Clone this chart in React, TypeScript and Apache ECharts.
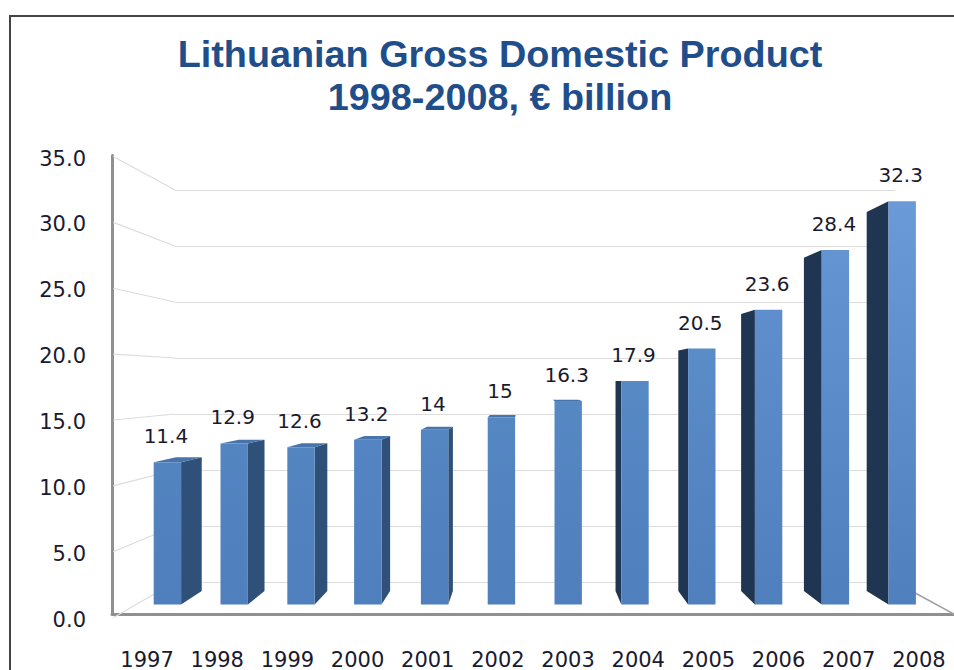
import React, { useEffect, useRef } from "react";
import * as echarts from "echarts";

const years = ["1997","1998","1999","2000","2001","2002","2003","2004","2005","2006","2007","2008"];
const gdp = [11.4,12.9,12.6,13.2,14,15,16.3,17.9,20.5,23.6,28.4,32.3];
const wallTicks = [0,5,10,15,20,25,30,35];
const titleText = "Lithuanian Gross Domestic Product\n1998-2008, € billion";

const FONT = '"DejaVu Sans", sans-serif';
const VP = [525, 380];
const BAR_DEPTH = 0.94;
const WALL_DEPTH = 0.85;

const mix = (a: number[], b: number[], t: number) =>
  `rgb(${a.map((c, i) => Math.round(c + (b[i] - c) * t)).join(",")})`;

function toward(p: number[], k: number) {
  return [VP[0] + (p[0] - VP[0]) * k, VP[1] + (p[1] - VP[1]) * k];
}

function renderWall(_: any, api: any) {
  const v = api.value(0);
  const bl = api.coord([0, v]);
  const fl = toward(bl, 1 / WALL_DEPTH);
  const children: any[] = [
    { type: "line", shape: { x1: bl[0], y1: bl[1], x2: fl[0], y2: fl[1] }, style: { stroke: "#dcdcdc", lineWidth: 1.2 } },
  ];
  if (v === 0) {
    const br = api.coord([1, v]);
    const fr = toward(br, 1 / WALL_DEPTH);
    children.push({ type: "line", shape: { x1: br[0], y1: br[1], x2: fr[0], y2: fr[1] }, style: { stroke: "#a0a0a0", lineWidth: 1.5 } });
  }
  return { type: "group", children };
}

function renderBar(_: any, api: any) {
  const i = api.value(0);
  const v = api.value(1);
  const top = api.coord([i, v]);
  const base = api.coord([i, 0]);
  const w = api.size([1, 0])[0] * 0.41;
  const l = top[0] - w / 2;
  const r = top[0] + w / 2;
  const t = top[1];
  const b = base[1];
  const children: any[] = [];
  const onLeft = l > VP[0];
  const edge = onLeft ? l : r;
  const bt = toward([edge, t], BAR_DEPTH);
  const bb = toward([edge, b], BAR_DEPTH);
  if (Math.abs(bt[0] - edge) > 3) {
    children.push({
      type: "polygon",
      shape: { points: [[edge, t], bt, bb, [edge, b]] },
      style: { fill: onLeft ? "#1f3552" : "#2f5078" },
    });
  }
  if (t > VP[1]) {
    children.push({
      type: "polygon",
      shape: { points: [[l, t], [r, t], toward([r, t], BAR_DEPTH), toward([l, t], BAR_DEPTH)] },
      style: { fill: "#4873ab" },
    });
  }
  const lift = Math.pow(Math.min(1, Math.max(0, (b - t) / 400)), 2);
  children.push({
    type: "polygon",
    shape: { points: [[l, t], [r, t], [r, b], [l, b]] },
    style: {
      fill: new echarts.graphic.LinearGradient(0, 0, 0, 1, [
        { offset: 0, color: mix([79, 129, 189], [106, 155, 216], lift) },
        { offset: 1, color: "#4f7fbd" },
      ]),
    },
  });
  children.push({
    type: "text",
    style: {
      text: String(v),
      x: top[0] - 1.5,
      y: t - 26,
      textAlign: "center",
      textVerticalAlign: "middle",
      font: `20px ${FONT}`,
      fill: "#1a1a2e",
    },
  });
  return { type: "group", children };
}

export default function App() {
  const ref = useRef<HTMLDivElement>(null);
  useEffect(() => {
    const chart = echarts.init(ref.current!, null, { renderer: "svg" });
    chart.setOption({
      animation: false,
      backgroundColor: "#ffffff",
      title: {
        text: titleText,
        left: 495,
        top: 27,
        textAlign: "center",
        textStyle: {
          fontFamily: '"Liberation Sans", Arial, sans-serif',
          fontSize: 37.8,
          fontWeight: "bold",
          color: "#1f4e8a",
          lineHeight: 43,
        },
      },
      graphic: [
        {
          type: "rect",
          shape: { x: 10, y: 16, width: 1000, height: 720 },
          style: { fill: "none", stroke: "#444444", lineWidth: 2 },
          silent: true,
        },
      ],
      grid: [
        { left: 112, top: 155.5, width: 845, height: 461 },
        { left: 175, top: 190, width: 720, height: 392 },
        { left: 134, top: 167.5, width: 801.6, height: 437 },
        { left: 112, top: 158.5, width: 845, height: 461 },
      ],
      xAxis: [
        {
          gridIndex: 0,
          type: "category",
          data: years,
          axisTick: { show: false },
          axisLine: { show: true, lineStyle: { color: "#909090", width: 3 } },
          axisLabel: { margin: 35, interval: 0, fontFamily: FONT, fontSize: 21, color: "#1a1a2e", hideOverlap: false },
        },
        { gridIndex: 1, type: "value", min: 0, max: 1, show: false },
        { gridIndex: 2, type: "category", data: years, show: false },
        { gridIndex: 3, type: "value", min: 0, max: 1, show: false },
      ],
      yAxis: [
        {
          gridIndex: 0,
          type: "value",
          min: 0,
          max: 35,
          interval: 5,
          splitLine: { show: false },
          axisTick: { show: false },
          axisLine: { show: true, lineStyle: { color: "#909090", width: 3 } },
          axisLabel: { show: false },
        },
        {
          gridIndex: 1,
          type: "value",
          min: 0,
          max: 35,
          interval: 5,
          axisLine: { show: false },
          axisTick: { show: false },
          axisLabel: { show: false },
          splitLine: { show: true, lineStyle: { color: "#dcdcdc", width: 1.2 } },
        },
        { gridIndex: 2, type: "value", min: 0, max: 35, show: false },
        {
          gridIndex: 3,
          type: "value",
          min: 0,
          max: 35,
          interval: 5,
          splitLine: { show: false },
          axisTick: { show: false },
          axisLine: { show: false },
          axisLabel: { margin: 26, fontFamily: FONT, fontSize: 21, color: "#1a1a2e", formatter: (v: number) => v.toFixed(1) },
        },
      ],
      series: [
        {
          type: "custom",
          xAxisIndex: 1,
          yAxisIndex: 1,
          renderItem: renderWall,
          data: wallTicks.map((v) => [v]),
          encode: { y: 0 },
          silent: true,
          z: 1,
        },
        {
          type: "custom",
          xAxisIndex: 2,
          yAxisIndex: 2,
          renderItem: renderBar,
          data: gdp.map((v, i) => [i, v]),
          encode: { x: 0, y: 1 },
          silent: true,
          z: 5,
        },
      ],
    });
    return () => chart.dispose();
  }, []);
  return <div ref={ref} style={{ position: "absolute", left: 0, top: 0, width: 954, height: 670 }} />;
}
